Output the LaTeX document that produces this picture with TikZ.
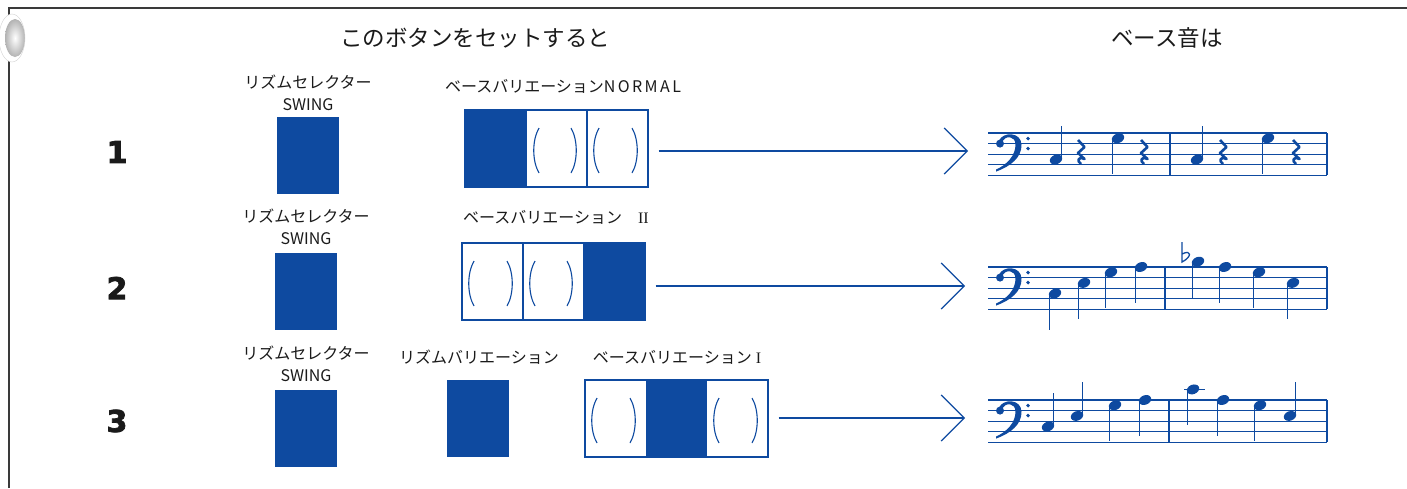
\documentclass[tikz,border=0pt]{standalone}
\usepackage{fontspec}
\setmainfont{Noto Sans CJK JP}
\newfontfamily\romanfont{Liberation Serif}
\newfontfamily\numfont[BoldFeatures={FakeBold=2.5}]{DejaVu Sans}
\usepackage{tikz}
\usetikzlibrary{arrows.meta,calc,positioning}
\definecolor{ink}{HTML}{0E4AA0}
\definecolor{frameline}{HTML}{3A3A3A}
\definecolor{txt}{HTML}{1A1A1A}
\tikzset{
  selbox/.style={rectangle, fill=ink, inner sep=0pt, minimum width=62pt, minimum height=77pt},
  varbox/.style={rectangle, draw=ink, line width=1.3pt, inner sep=0pt, minimum width=183pt, minimum height=77pt},
  lbl/.style={text=txt, align=center, inner sep=0pt, font=\fontsize{16}{22}\selectfont},
  hdr/.style={text=txt, inner sep=0pt, font=\fontsize{22.5}{27}\selectfont},
  num/.style={text=txt, inner sep=0pt, font=\numfont\bfseries\fontsize{30}{30}\selectfont},
  conn/.style={-{Straight Barb[length=23pt,width=46pt]}, line width=1.2pt, draw=ink},
  staffline/.style={line width=1.3pt, draw=ink},
  notestem/.style={line width=1.5pt, draw=ink},
  paren/.style={line width=1.1pt, draw=ink}
}
\newcommand{\ParenCell}[4]{% xleft,xright,ytop,ybot
  \draw[paren] ({#1+12},{#3+18}) .. controls ({#1+5},{#3+30}) and ({#1+5},{#4-26}) .. ({#1+12},{#4-14});
  \draw[paren] ({#2-16},{#3+18}) .. controls ({#2-9},{#3+30}) and ({#2-9},{#4-26}) .. ({#2-16},{#4-14});
}
\newcommand{\BassClef}[2]{% x,stafftop
  \begin{scope}[shift={(#1,#2+10.6)}]
    \fill[ink] (0,0) circle (4);
    \fill[ink] (-1,-3) .. controls (3,-12) and (21,-12) .. (21.5,1) .. controls (22,14) and (10,23) .. (-4,28)
      -- (-4,26) .. controls (7,21) and (15.5,12) .. (15.5,1) .. controls (15.5,-8) and (5,-9) .. (2,-1) -- cycle;
    \fill[ink] (28,-5) circle (1.9) (28,5) circle (1.9);
  \end{scope}
}
\newcommand{\Staff}[4]{% xleft,xright,top,midbar
  \foreach \k in {0,...,4} \draw[staffline] (#1,{#3+10.6*\k}) -- (#2,{#3+10.6*\k});
  \draw[staffline] (#4,#3) -- (#4,#3+42.4);
  \draw[staffline] (#2,#3) -- (#2,#3+42.4);
  \BassClef{#1+12}{#3}
}
\newcommand{\NoteUp}[3]{% x,stafftop,step
  \fill[ink, rotate around={22:(#1,{#2+5.3*(#3)})}] (#1,{#2+5.3*(#3)}) ellipse (6.4 and 4.7);
  \draw[notestem] ({#1+5.6},{#2+5.3*(#3)}) -- ++(0,-34);
}
\newcommand{\NoteDown}[3]{% x,stafftop,step
  \fill[ink, rotate around={22:(#1,{#2+5.3*(#3)})}] (#1,{#2+5.3*(#3)}) ellipse (6.4 and 4.7);
  \draw[notestem] ({#1-5.6},{#2+5.3*(#3)}) -- ++(0,36);
}
\newcommand{\QRest}[2]{% x,stafftop
  \draw[ink, line width=2.6pt, line join=round] (#1-3,#2+7) -- (#1+3.5,#2+14) -- (#1-3,#2+20) -- (#1+3.5,#2+26)
    .. controls (#1-3,#2+23) and (#1-4.5,#2+28) .. (#1,#2+31);
}

\begin{document}
\begin{tikzpicture}[x=1pt,y=-1pt]
  \useasboundingbox (0,0) rectangle (1407,488);

  % frame and binder hole
  \draw[frameline, line width=1.3pt] (9,488) -- (9,8) -- (1407,8);
  \fill[white] (12,38) ellipse (13 and 24);
  \shade[inner color=white, outer color=gray!60] (15,38) ellipse (10 and 19);
  \draw[gray!35] (12,38) ellipse (13 and 24);

  % headers
  \node[hdr] (h1) at (475,38) {このボタンをセットすると};
  \node[hdr] (h2) at (1167,38) {ベース音は};

  % row numbers
  \node[num] (n1) at (117,152) {1};
  \node[num] (n2) at (117,288) {2};
  \node[num] (n3) at (117,421) {3};

  % Row 1: NORMAL
  \node[lbl] (l1) at (308,93) {リズムセレクター\\SWING};
  \node[selbox] (s1) at (308,155.5) {};
  \node[lbl] (v1) at (563,86) {ベースバリエーション{\addfontfeature{LetterSpace=15}NORMAL}};
  \node[varbox] (bv1) at (556.5,148.5) {};
  \fill[ink] (465,110) rectangle (527,187);
  \draw[paren] (587,110) -- (587,187);
  \ParenCell{527}{587}{110}{187}
  \ParenCell{587}{648}{110}{187}
  \coordinate (st1) at (968,151);
  \draw[conn] ($(bv1.east |- st1)+(10,0)$) -- (st1);
  \Staff{988}{1327}{133}{1170}
  \NoteUp{1056}{133}{5} \QRest{1081}{133}
  \NoteDown{1118}{133}{1} \QRest{1144}{133}
  \NoteUp{1197}{133}{5} \QRest{1223}{133}
  \NoteDown{1268}{133}{1} \QRest{1296}{133}

  % Row 2: II
  \node[lbl] (l2) at (306,226.5) {リズムセレクター\\SWING};
  \node[selbox] (s2) at (306,291.5) {};
  \node[lbl] (v2) at (556,217) {ベースバリエーション\quad{\romanfont II}};
  \node[varbox] (bv2) at (553.5,281.5) {};
  \draw[paren] (523,243) -- (523,320);
  \fill[ink] (583,243) rectangle (645,320);
  \ParenCell{462}{523}{243}{320}
  \ParenCell{523}{583}{243}{320}
  \coordinate (st2) at (965,286);
  \draw[conn] ($(bv2.east |- st2)+(10,0)$) -- (st2);
  \Staff{988}{1327}{267}{1165}
  \NoteDown{1055}{267}{5} \NoteDown{1084}{267}{3}
  \NoteDown{1111}{267}{1} \NoteDown{1141}{267}{0}
  \draw[ink, line width=1.3pt] (1182,242) -- (1182,262) .. controls (1192,257) and (1192,249) .. (1182,254);
  \NoteDown{1198}{267}{-1} \NoteDown{1225}{267}{0}
  \NoteDown{1259}{267}{1} \NoteDown{1293}{267}{3}

  % Row 3: rhythm variation + I
  \node[lbl] (l3) at (306,364) {リズムセレクター\\SWING};
  \node[selbox] (s3) at (306,428) {};
  \node[lbl] (r3) at (479,357) {リズムバリエーション};
  \node[selbox] (rv3) at (478,418.5) {};
  \node[lbl] (v3) at (677,357) {ベースバリエーション\hspace{4pt}{\romanfont I}};
  \node[varbox] (bv3) at (676.5,418.5) {};
  \fill[ink] (646,380) rectangle (707,457);
  \ParenCell{585}{646}{380}{457}
  \ParenCell{707}{768}{380}{457}
  \coordinate (st3) at (965,418);
  \draw[conn] ($(bv3.east |- st3)+(10,0)$) -- (st3);
  \Staff{988}{1327}{400}{1169}
  \NoteUp{1048}{400}{5} \NoteUp{1077}{400}{3}
  \NoteDown{1115}{400}{1} \NoteDown{1145}{400}{0}
  \draw[staffline] (1184,389.4) -- (1205,389.4);
  \NoteDown{1193}{400}{-2} \NoteDown{1223}{400}{0}
  \NoteDown{1260}{400}{1} \NoteUp{1290}{400}{3}
\end{tikzpicture}
\end{document}
